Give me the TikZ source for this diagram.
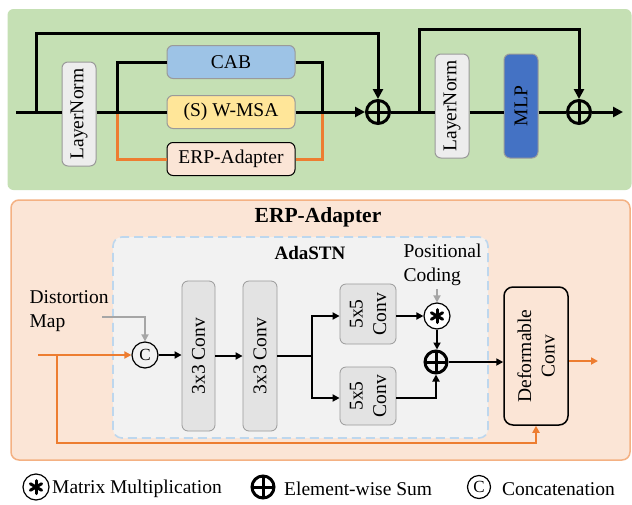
\documentclass[tikz,border=0pt]{standalone}
\usepackage{fontspec}
\usepackage{graphicx}
\setmainfont{Liberation Serif}
\usetikzlibrary{arrows.meta,calc}
\definecolor{pgreen}{HTML}{C5E0B4}
\definecolor{cabblue}{HTML}{9DC3E6}
\definecolor{wyellow}{HTML}{FFE699}
\definecolor{peach}{HTML}{FBE5D6}
\definecolor{peachline}{HTML}{F4B183}
\definecolor{lngray}{HTML}{EDEDED}
\definecolor{bgray}{HTML}{9A9A9A}
\definecolor{mlpblue}{HTML}{4472C4}
\definecolor{adabg}{HTML}{F2F2F2}
\definecolor{adaline}{HTML}{BDD7EE}
\definecolor{convgray}{HTML}{E3E3E3}
\definecolor{orng}{HTML}{ED7D31}
\definecolor{arrgray}{HTML}{A6A6A6}
\newcommand\fA{\fontsize{19.5}{23.5}\selectfont}
\newcommand\fT{\fontsize{21.5}{25}\selectfont\bfseries}
\newcommand\fS{\fontsize{19}{23}\selectfont\bfseries}
\newcommand\fC{\fontsize{17}{20}\selectfont}
\begin{document}
\begin{tikzpicture}[x=1pt,y=-1pt,
  tl/.style={line width=3pt},
  tol/.style={line width=3pt, draw=orng},
  bl/.style={line width=2pt},
  bol/.style={line width=2.5pt, draw=orng},
  gl/.style={line width=2pt, draw=arrgray},
  arT/.style={-{Triangle[length=10pt,width=10pt]}},
  arB/.style={-{Triangle[length=7pt,width=7pt]}},
  hbox/.style={draw=bgray, line width=1pt, rounded corners=6pt, minimum width=128pt, minimum height=33pt, inner sep=0pt, font=\fA},
  vbox/.style={draw=bgray, line width=1pt, rounded corners=6pt, minimum width=34pt, minimum height=104pt, inner sep=0pt},
  convbox/.style={draw=bgray, fill=convgray, line width=0.8pt, rounded corners=6pt, inner sep=0pt},
  oplus/.style={circle, draw, line width=3pt, minimum size=#1, inner sep=0pt,
    path picture={\draw[line width=3pt] (path picture bounding box.north) -- (path picture bounding box.south) (path picture bounding box.west) -- (path picture bounding box.east);}},
  ostar/.style={circle, draw, line width=1.2pt, minimum size=26pt, inner sep=0pt, fill=white,
    path picture={\foreach \a in {90,30,150}{\draw[line width=3pt, line cap=round] ($(path picture bounding box.center)+(\a:6.5pt)$) -- ($(path picture bounding box.center)+(\a+180:6.5pt)$);}}},
  ocirc/.style={circle, draw, line width=1.2pt, minimum size=#1, inner sep=0pt, font=\fC}
]
\useasboundingbox (0,0) rectangle (632,504);
\fill[white] (0,0) rectangle (632,504);

% ---------------- top panel ----------------
\node[fill=pgreen, rounded corners=6pt, minimum width=624pt, minimum height=181pt, inner sep=0pt] (toppanel) at (319.5,99.5) {};

\node[vbox, fill=lngray, label={[rotate=90, font=\fA]center:LayerNorm}] (ln1) at (79,114) {};
\node[hbox, fill=cabblue] (cab) at (231,62) {CAB};
\node[hbox, fill=wyellow] (wmsa) at (231,112) {(S) W-MSA};
\node[hbox, fill=peach, draw=black] (erp) at (231,159) {ERP-Adapter};
\node[oplus=23pt] (plus1) at (378,112) {};
\node[vbox, fill=lngray, label={[rotate=90, font=\fA]center:LayerNorm}] (ln2) at (452,106) {};
\node[vbox, fill=mlpblue, label={[rotate=90, font=\fA]center:MLP}] (mlp) at (521,106) {};
\node[oplus=23pt] (plus2) at (579,112) {};

\coordinate (in) at (16,112);
\coordinate (s1) at (36,112);
\coordinate (t1) at (36,33);
\coordinate (b1) at (117,112);
\coordinate (m1) at (322,112);
\coordinate (b2) at (419,112);
\coordinate (t2) at (419,29);
\coordinate (out) at (623,112);

\draw[tl] (in) -- (ln1.west |- in);
\draw[tl, arT] (s1) -- (t1) -| (plus1.north);
\draw[tol] (b1) |- (erp.west);
\draw[tol] (erp.east) -| (m1);
\draw[tl] (ln1.east |- b1) -- (wmsa.west);
\draw[tl] (b1) |- (cab.west);
\draw[tl] (cab.east) -| (m1);
\draw[tl, arT] (wmsa.east) -- (plus1.west);
\draw[tl] (plus1.east) -- (ln2.west |- plus1);
\draw[tl, arT] (b2) -- (t2) -| (plus2.north);
\draw[tl] (ln2.east |- plus1) -- (mlp.west |- plus1);
\draw[tl] (mlp.east |- plus2) -- (plus2.west);
\draw[tl, arT] (plus2.east) -- (out);

% ---------------- bottom panel ----------------
\node[fill=peach, draw=peachline, line width=1.5pt, rounded corners=8pt, minimum width=619pt, minimum height=260pt, inner sep=0pt] (botpanel) at (320.5,330) {};
\node[font=\fT] (title) at (318,217) {ERP-Adapter};
\node[fill=adabg, draw=adaline, line width=1.6pt, dash pattern=on 9pt off 5pt, rounded corners=9pt, minimum width=375pt, minimum height=201pt, inner sep=0pt] (ada) at (300.5,337.5) {};
\node[font=\fS] (adat) at (310,253) {AdaSTN};

\node[font=\fA, align=left, anchor=west] (dm) at (26,311) {Distortion\\Map};
\node[font=\fA, align=left, anchor=west] (pc) at (400,265) {Positional\\Coding};

\node[ocirc=26pt] (cc) at (145,355) {C};
\node[convbox, minimum width=33pt, minimum height=150pt, label={[rotate=90, font=\fA]center:3x3 Conv}] (c1) at (198.5,356) {};
\node[convbox, minimum width=34pt, minimum height=150pt, label={[rotate=90, font=\fA]center:3x3 Conv}] (c2) at (260,356) {};
\node[convbox, minimum width=56pt, minimum height=60pt, label={[rotate=90, font=\fA, align=center]center:5x5\\Conv}] (c5a) at (368,314) {};
\node[convbox, minimum width=56pt, minimum height=58pt, label={[rotate=90, font=\fA, align=center]center:5x5\\Conv}] (c5b) at (368,396) {};
\node[ostar] (star) at (437,316) {};
\node[oplus=22pt] (plus) at (436,362) {};
\node[fill=peach, draw=black, line width=1.5pt, rounded corners=9pt, minimum width=64pt, minimum height=138pt, inner sep=0pt, label={[rotate=90, font=\fA, align=center]center:Deformable\\Conv}] (dc) at (536,356) {};

\coordinate (dmx) at (102,317);
\coordinate (oin) at (38,355);
\coordinate (ob) at (57,355);
\coordinate (obot) at (57,443);
\coordinate (sp) at (312,356);
\coordinate (dout) at (598,361);

\draw[gl, arB] (dmx) -| (cc.north);
\draw[bol, arB] (oin) -- (cc.west);
\draw[bol, arB] (ob) -- (obot) -| (dc.south);
\draw[bl, arB] (cc.east) -- (c1.west |- cc);
\draw[bl, arB] (c1.east) -- (c2.west);
\draw[bl] (c2.east) -- (sp);
\draw[bl, arB] (sp) |- (c5a.west |- star);
\draw[bl, arB] (sp) |- (c5b.west |- 0,398);
\draw[bl, arB] (c5a.east |- star) -- (star.west);
\draw[gl, arB] (star |- pc.south) -- (star.north);
\draw[bl, arB] (star.south) -- (star.south |- plus.north);
\draw[bl, arB] (c5b.east |- 0,398) -| (plus.south);
\draw[bl, arB] (plus.east) -- (dc.west |- plus);
\draw[bol, arB] (dc.east |- dout) -- (dout);

% ---------------- legend ----------------
\node[ostar] (lstar) at (36,487) {};
\node[font=\fA, anchor=west, inner sep=0pt] (lt1) at (52,489) {Matrix Multiplication};
\node[oplus=22pt] (lplus) at (263,487) {};
\node[font=\fA, anchor=west, inner sep=0pt] (lt2) at (284,489) {Element-wise Sum};
\node[ocirc=23pt] (lc) at (479,487) {C};
\node[font=\fA, anchor=west, inner sep=0pt] (lt3) at (502,489) {Concatenation};
\end{tikzpicture}
\end{document}
